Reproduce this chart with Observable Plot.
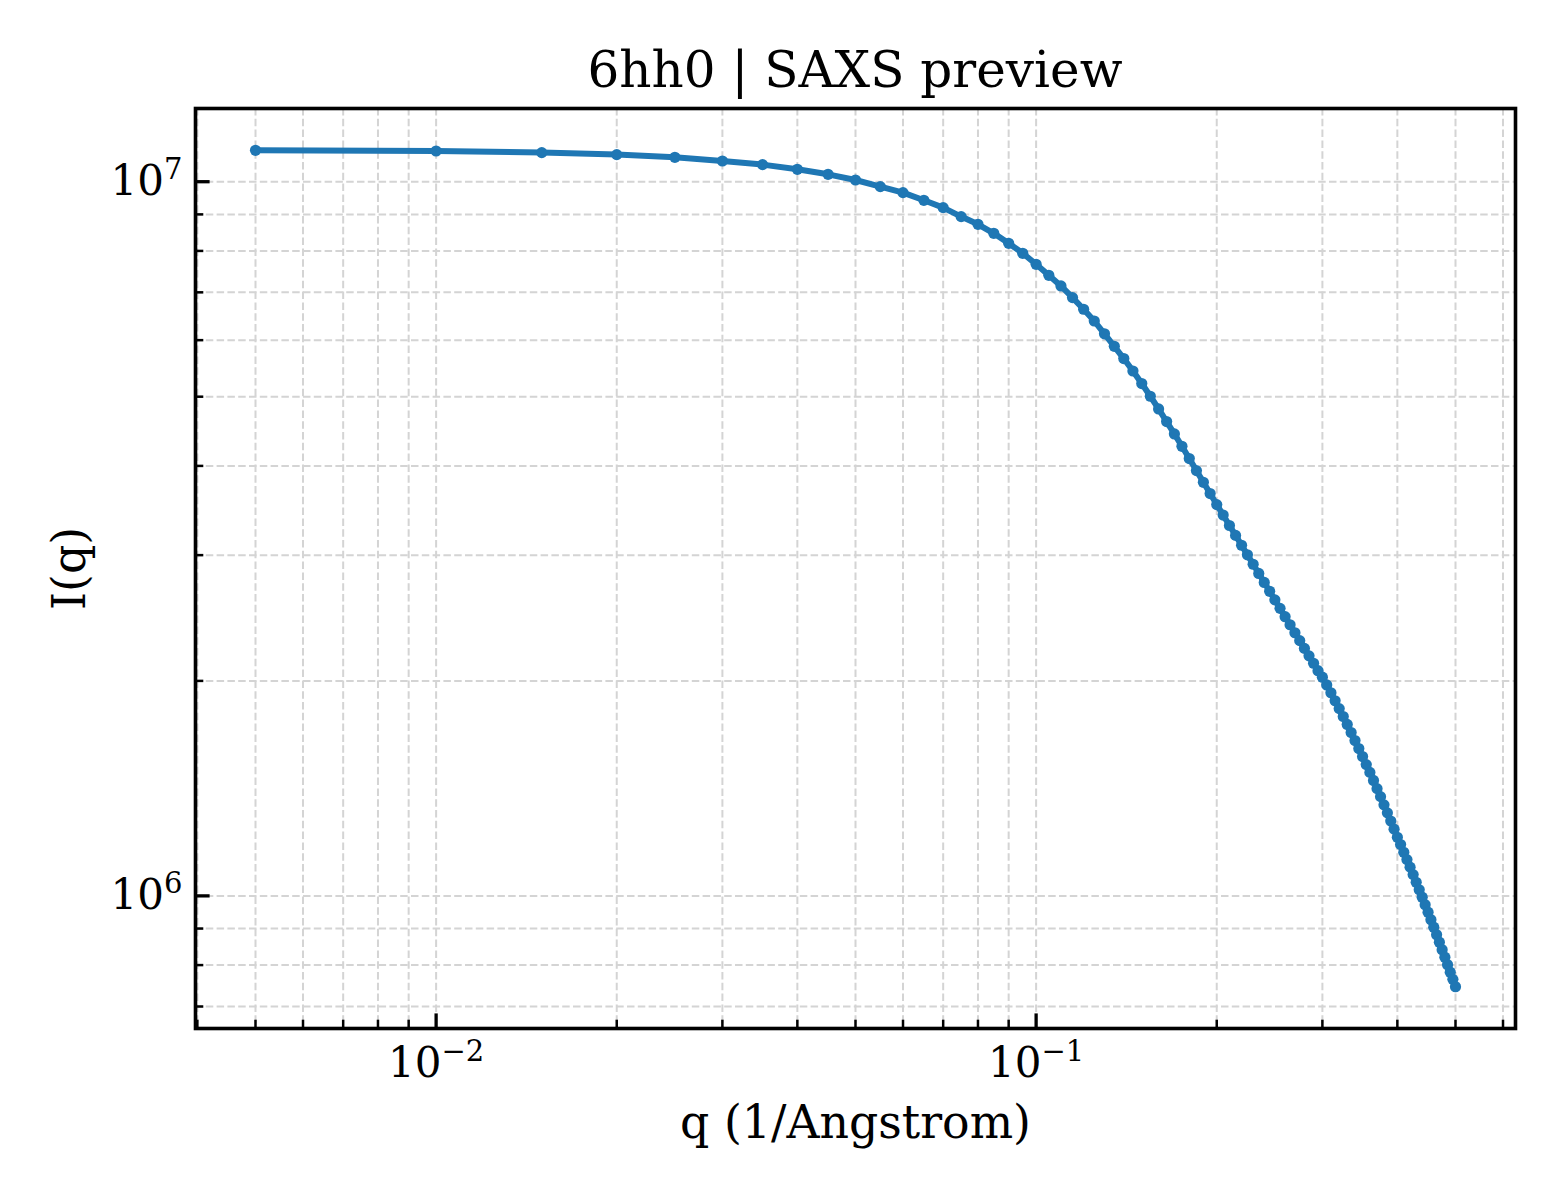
<!DOCTYPE html>
<html>
<head>
<meta charset="utf-8">
<script src="https://cdn.jsdelivr.net/npm/d3@7"></script>
<script src="https://cdn.jsdelivr.net/npm/@observablehq/plot@0.6"></script>
<style>
  html, body { margin: 0; padding: 0; background: #ffffff; }
  #wrap { width: 1560px; height: 1200px; position: relative; background: #ffffff; }
  #title {
    width: 1710px; height: 60px; padding-top: 40px; line-height: 60px;
    text-align: center; font-family: "DejaVu Serif", serif; font-size: 50px; color: #000;
    white-space: nowrap;
  }
</style>
</head>
<body>
<div id="wrap">
  <div id="title">6hh0 | SAXS preview</div>
  <div id="chart"></div>
</div>
<script>
// ---- data ----
const qValues = [
  0.005, 0.010, 0.015, 0.020, 0.025, 0.030, 0.035, 0.040, 0.045, 0.050,
  0.055, 0.060, 0.065, 0.070, 0.075, 0.080, 0.085, 0.090, 0.095, 0.100,
  0.105, 0.110, 0.115, 0.120, 0.125, 0.130, 0.135, 0.140, 0.145, 0.150,
  0.155, 0.160, 0.165, 0.170, 0.175, 0.180, 0.185, 0.190, 0.195, 0.200,
  0.205, 0.210, 0.215, 0.220, 0.225, 0.230, 0.235, 0.240, 0.245, 0.250,
  0.255, 0.260, 0.265, 0.270, 0.275, 0.280, 0.285, 0.290, 0.295, 0.300,
  0.305, 0.310, 0.315, 0.320, 0.325, 0.330, 0.335, 0.340, 0.345, 0.350,
  0.355, 0.360, 0.365, 0.370, 0.375, 0.380, 0.385, 0.390, 0.395, 0.400,
  0.405, 0.410, 0.415, 0.420, 0.425, 0.430, 0.435, 0.440, 0.445, 0.450,
  0.455, 0.460, 0.465, 0.470, 0.475, 0.480, 0.485, 0.490, 0.495, 0.500
];
const intensity = [
  1.1065e7, 1.1040e7, 1.0984e7, 1.0913e7, 1.0818e7, 1.0690e7, 1.0567e7, 1.0408e7, 1.0241e7, 1.0055e7,
  9.843e6, 9.655e6, 9.418e6, 9.199e6, 8.936e6, 8.717e6, 8.468e6, 8.199e6, 7.939e6, 7.662e6,
  7.395e6, 7.145e6, 6.882e6, 6.628e6, 6.382e6, 6.124e6, 5.882e6, 5.654e6, 5.432e6, 5.216e6,
  5.007e6, 4.806e6, 4.615e6, 4.434e6, 4.261e6, 4.096e6, 3.940e6, 3.794e6, 3.659e6, 3.531e6,
  3.414e6, 3.301e6, 3.197e6, 3.097e6, 3.003e6, 2.913e6, 2.828e6, 2.747e6, 2.670e6, 2.597e6,
  2.527e6, 2.460e6, 2.397e6, 2.336e6, 2.277e6, 2.221e6, 2.168e6, 2.117e6, 2.067e6, 2.024e6,
  1.974e6, 1.925e6, 1.876e6, 1.829e6, 1.783e6, 1.738e6, 1.693e6, 1.650e6, 1.608e6, 1.567e6,
  1.527e6, 1.489e6, 1.451e6, 1.413e6, 1.377e6, 1.341e6, 1.307e6, 1.273e6, 1.240e6, 1.208e6,
  1.180e6, 1.151e6, 1.124e6, 1.097e6, 1.071e6, 1.045e6, 1.020e6, 9.958e5, 9.720e5, 9.488e5,
  9.261e5, 9.040e5, 8.824e5, 8.613e5, 8.407e5, 8.206e5, 8.010e5, 7.819e5, 7.640e5, 7.462e5
];
const xMajorTicks = [0.01, 0.1];
const xMinorTicks = [0.004, 0.005, 0.006, 0.007, 0.008, 0.009,
                     0.02, 0.03, 0.04, 0.05, 0.06, 0.07, 0.08, 0.09,
                     0.2, 0.3, 0.4, 0.5, 0.6];
const yMajorTicks = [1e6, 1e7];
const yMinorTicks = [7e5, 8e5, 9e5, 2e6, 3e6, 4e6, 5e6, 6e6, 7e6, 8e6, 9e6];
const xLabel = "q (1/Angstrom)";
const yLabel = "I(q)";

// ---- build ----
const rows = qValues.map((q, i) => ({q, I: intensity[i]}));

// matplotlib-like 5% padding in log space
const lx = d3.extent(qValues, Math.log10), ly = d3.extent(intensity, Math.log10);
const px = (lx[1] - lx[0]) * 0.05, py = (ly[1] - ly[0]) * 0.05;
const xDomain = [10 ** (lx[0] - px), 10 ** (lx[1] + px)];
const yDomain = [10 ** (ly[0] - py), 10 ** (ly[1] + py)];

const fmtPow = d => "10^" + Math.round(Math.log10(d)).toString().replace("-", "\u2212");
const gridStyle = {stroke: "#d4d4d4", strokeOpacity: 1, strokeWidth: 2, strokeDasharray: "7.5,3.3"};
const blue = "#1f77b4";

const chart = Plot.plot({
  width: 1560,
  height: 1100,
  marginTop: 8,
  marginBottom: 172,
  marginLeft: 195,
  marginRight: 45,
  style: {fontFamily: "DejaVu Serif", fontSize: "42px", background: "#ffffff", color: "#000", overflow: "visible"},
  x: {type: "log", domain: xDomain},
  y: {type: "log", domain: yDomain},
  marks: [
    Plot.gridX([...xMinorTicks, ...xMajorTicks], gridStyle),
    Plot.gridY([...yMinorTicks, ...yMajorTicks], gridStyle),
    Plot.line(rows, {x: "q", y: "I", stroke: blue, strokeWidth: 6, strokeLinejoin: "round", strokeLinecap: "round"}),
    Plot.dot(rows, {x: "q", y: "I", r: 5.6, fill: blue, stroke: "none"}),
    // inward ticks
    Plot.axisX(xMajorTicks, {anchor: "bottom", tickSize: -14.6, strokeWidth: 3.3, tickFormat: () => "", label: null}),
    Plot.axisX(xMinorTicks, {anchor: "bottom", tickSize: -8.3, strokeWidth: 2.5, tickFormat: () => "", label: null}),
    Plot.axisY(yMajorTicks, {anchor: "left", tickSize: -14.6, strokeWidth: 3.3, tickFormat: () => "", label: null}),
    Plot.axisY(yMinorTicks, {anchor: "left", tickSize: -8.3, strokeWidth: 2.5, tickFormat: () => "", label: null}),
    // tick labels
    Plot.axisX(xMajorTicks, {anchor: "bottom", tickSize: 0, tickPadding: 19, tickFormat: fmtPow, fontSize: 42, label: null}),
    Plot.axisY(yMajorTicks, {anchor: "left", tickSize: 0, tickPadding: 13, tickFormat: fmtPow, fontSize: 42, label: null}),
    // axis titles
    Plot.text([xLabel], {frameAnchor: "bottom", dy: 95, text: d => d, fontSize: 45.8, textAnchor: "middle", lineAnchor: "middle"}),
    Plot.text([yLabel], {frameAnchor: "left", dx: -125, rotate: -90, text: d => d, fontSize: 45.8, textAnchor: "middle", lineAnchor: "middle"}),
    Plot.frame({stroke: "#000", strokeWidth: 3.6})
  ]
});

// turn "10^n" labels into real superscripts
chart.querySelectorAll("text").forEach(t => {
  const s = t.textContent;
  if (!s.includes("^")) return;
  const [base, exp] = s.split("^");
  while (t.firstChild) t.removeChild(t.firstChild);
  const ns = "http://www.w3.org/2000/svg";
  const b = document.createElementNS(ns, "tspan");
  b.textContent = base;
  const e = document.createElementNS(ns, "tspan");
  e.textContent = exp;
  e.setAttribute("font-size", "29px");
  e.setAttribute("dy", "-16");
  t.appendChild(b);
  t.appendChild(e);
});

document.getElementById("chart").appendChild(chart);
</script>
</body>
</html>
